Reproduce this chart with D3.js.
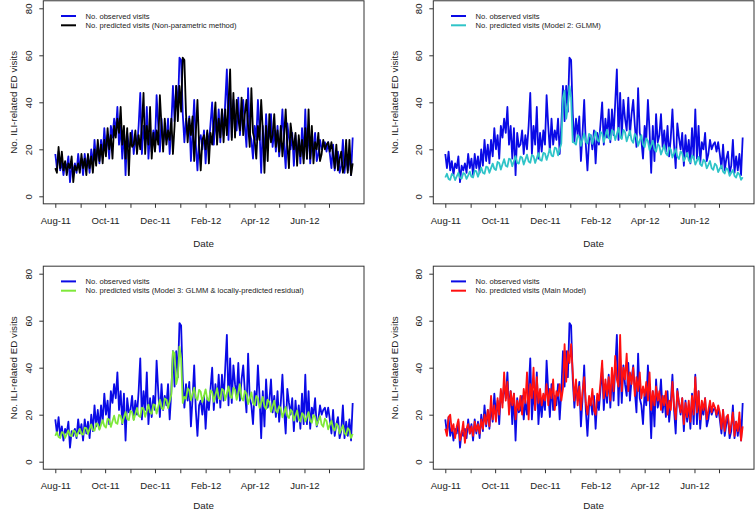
<!DOCTYPE html>
<html><head><meta charset="utf-8">
<script src="https://cdn.jsdelivr.net/npm/d3@7"></script>
<style>
body{margin:0;background:#fff}
svg{display:block}
text{font-family:"Liberation Sans",Arial,Helvetica,sans-serif;fill:#222}
</style>
</head><body>
<svg id="c" width="755" height="513"></svg>
<script>
// ---- data (every second day from 1 Aug 2011) ----
const startDate = new Date(2011, 7, 1);
const stepDays = 2;

const observed = [
 18,12,19,11,15,9,14,12,17,6,13,11,14,10,18,12,
 16,9,18,12,17,10,20,13,24,15,22,14,24,17,29,
 20,26,16,30,25,33,27,38,22,30,16,29,9,27,21,
 22,28,18,26,20,30,44,18,30,22,38,16,27,19,28,
 22,43,30,19,33,22,28,24,33,18,30,47,32,47,36,59,
 58,35,23,33,26,34,15,27,41,22,11,24,26,20,28,
 14,27,22,31,40,22,33,25,37,23,37,26,40,54,24,
 44,25,41,33,28,42,26,35,41,30,21,46,27,24,16,
 30,24,41,28,10,30,15,35,23,26,35,21,28,19,30,
 17,25,37,22,12,31,25,20,27,13,26,17,24,14,29,16,
 37,16,30,14,23,20,27,15,18,24,20,22,23,19,23,
 18,12,22,11,16,19,10,13,24,10,17,11,18,9,25
];

const predNonParametric = [
 12,10,21,12,19,11,15,9,14,12,17,6,13,11,14,10,
 18,12,16,9,18,12,17,10,20,13,24,15,22,14,24,
 17,29,20,26,16,30,25,33,27,38,22,30,16,29,9,
 27,21,22,28,18,26,20,30,44,18,30,22,38,16,27,
 19,28,22,43,30,19,33,22,28,24,33,18,30,47,32,47,
 36,59,58,35,23,33,26,34,15,27,41,22,11,24,26,
 20,28,14,27,22,31,40,22,33,25,37,23,37,26,40,
 54,24,44,25,41,33,28,42,26,35,41,30,21,46,27,
 24,16,30,24,41,28,10,30,15,35,23,26,35,21,28,
 19,30,17,25,37,22,12,31,25,20,27,13,26,17,24,14,
 29,16,37,16,30,14,23,20,27,15,18,24,20,22,23,
 19,23,18,12,22,11,16,19,10,13,24,10,24,9,14
];

const predGLMM = [
 8.0,9.6,7.4,7.0,9.5,9.0,6.9,8.5,10.0,7.9,7.5,9.9,9.5,7.4,8.9,10.5,
 8.3,8.0,11.0,10.6,8.3,10.3,12.2,10.0,9.6,12.6,12.3,10.0,12.0,13.9,11.7,
 11.2,14.6,14.2,11.4,13.6,15.8,13.0,12.6,16.0,15.6,12.8,15.0,17.1,14.3,13.9,
 16.9,16.4,13.5,15.6,17.7,14.8,14.3,17.6,17.1,14.2,16.3,18.4,15.5,15.1,18.5,
 18.2,15.5,17.8,20.3,17.4,17.0,20.7,20.3,17.4,20.0,22.5,42,45,33,38,47,
 42,23,22.8,22.0,26.0,25.2,21.5,24.2,26.8,23.2,22.5,26.6,25.9,22.3,25.0,
 27.6,24.0,23.3,27.4,26.7,23.1,25.8,28.4,24.8,24.1,28.2,27.5,23.9,26.5,29.1,
 25.3,24.4,28.3,27.3,23.4,25.6,27.9,23.9,22.8,26.6,25.5,21.5,23.8,26.0,22.0,
 20.9,24.6,23.5,19.7,21.7,23.7,20.0,19.0,22.3,21.4,17.8,19.8,21.8,18.3,17.4,
 20.8,19.9,16.5,18.3,20.2,16.9,15.9,19.1,18.2,15.0,16.7,18.5,15.3,14.4,17.4,16.6,
 13.5,15.1,16.8,13.7,12.9,15.6,14.8,11.9,13.4,15.0,12.0,11.3,13.9,13.1,10.3,
 11.8,13.1,10.5,9.7,12.0,11.3,8.7,10.0,11.2,8.7,8.0,10.1,9.3,7.0,8.1
];

const predGLMMResidual = [
 11.0,12.6,10.5,10.1,12.6,12.2,10.1,11.7,13.3,11.2,10.8,13.3,12.9,10.8,12.4,14.0,
 11.8,11.5,14.5,14.3,11.8,13.9,15.9,13.5,13.2,16.3,16.0,13.6,15.6,17.7,15.2,
 14.5,18.3,17.9,14.8,17.2,19.6,16.6,16.1,19.9,19.5,16.4,18.8,21.2,18.2,17.7,
 21.6,21.1,17.7,20.3,22.9,19.5,19.0,23.0,22.5,19.1,21.7,24.3,20.9,20.4,24.4,
 24.1,20.5,23.4,26.4,22.8,22.3,26.9,26.4,22.8,25.6,28.5,47,46,33,36,49,
 44,25,27.6,26.8,31.2,30.4,26.1,28.8,31.5,27.2,26.3,30.6,29.7,25.4,28.1,
 30.8,26.6,25.9,30.3,29.6,25.5,28.4,31.3,27.2,26.5,31.0,30.3,26.2,29.1,32.0,
 27.9,27.1,31.5,30.6,26.3,29.0,33.0,27.1,26.0,30.1,29.0,24.5,27.0,29.5,25.0,
 24.0,28.0,27.0,22.9,25.2,27.6,23.5,22.4,26.4,25.4,21.2,23.6,26.0,21.8,20.8,
 23.6,22.7,18.9,21.1,23.3,19.5,18.6,22.2,21.3,17.5,19.6,21.8,18.0,17.1,20.7,19.8,
 17.1,19.1,21.1,17.5,16.6,19.9,19.0,15.5,17.4,19.4,15.8,14.9,18.3,17.3,13.8,
 15.7,17.4,14.2,13.3,16.2,15.3,12.0,13.8,15.5,12.2,11.3,14.3,13.4,10.1,11.8
];

const predMain = [
 14,11,19,20,13,16,10,15,18,9,12,17,8,14,16,12,
 15,11,17,13,16,12,18,14,20,16,22,15,28,18,24,
 17,27,20,31,23,38,26,34,20,30,24,29,18,26,22,
 28,20,31,25,38,18,33,27,40,22,36,25,31,24,29,
 26,33,24,31,27,35,22,30,28,33,26,31,50,34,47,42,
 50,38,26,35,24,32,22,30,36,25,20,28,24,31,22,
 20,29,26,34,43,27,35,28,36,26,40,30,45,35,32,
 54,30,40,35,46,30,38,33,40,28,36,30,38,27,32,
 28,34,26,38,22,30,24,32,26,30,22,28,24,30,20,
 26,22,34,24,18,30,25,21,27,16,25,19,26,17,28,20,
 36,21,30,18,26,22,27,18,22,26,21,25,23,20,24,
 21,14,22,13,19,20,12,16,21,11,17,13,21,9,15
];

const xTickLabels = ["Aug-11","","Oct-11","","Dec-11","","Feb-12","","Apr-12","","Jun-12",""];
const yTickValues = [0,20,40,60,80];
const observedLabel = "No. observed visits";
const predictedLabels = [
 "No. predicted visits (Non-parametric method)",
 "No. predicted visits (Model 2: GLMM)",
 "No. predicted visits (Model 3: GLMM & locally-predicted residual)",
 "No. predicted visits (Main Model)"
];
const xTitle = "Date";
const yTitle = "No. ILI-related ED visits";

// ---- drawing ----
const svg = d3.select('#c');
const n = observed.length;
const dates = d3.range(n).map(i => d3.timeDay.offset(startDate, i * stepDays));
const monthStarts = d3.timeMonth.range(new Date(2011, 7, 1), new Date(2012, 7, 1));

const panels = [
 {ox: 0,   oy: 0,     pred: predNonParametric, color: '#000000', label: predictedLabels[0]},
 {ox: 390, oy: 0,     pred: predGLMM,          color: '#2fc4c8', label: predictedLabels[1]},
 {ox: 0,   oy: 265.4, pred: predGLMMResidual,  color: '#7fe83a', label: predictedLabels[2]},
 {ox: 390, oy: 265.4, pred: predMain,          color: '#ff1010', label: predictedLabels[3]}
];
const obsColor = '#0a0ae6';

panels.forEach(p => {
  const g = svg.append('g').attr('transform', `translate(${p.ox},${p.oy})`);
  const x = d3.scaleTime().domain([new Date(2011, 7, 1), new Date(2012, 6, 31)]).range([55.3, 353.5]);
  const y = d3.scaleLinear().domain([0, 80]).range([196.3, 8.3]);
  const left = 43.3, right = 364.0, top = y(83.2), bottom = y(-3.2);

  const line = d3.line().x((d, i) => x(dates[i])).y(d => y(d));

  g.append('path').datum(observed)
    .attr('d', line).attr('fill', 'none').attr('stroke', obsColor)
    .attr('stroke-width', 1.8).attr('stroke-linejoin', 'round');
  g.append('path').datum(p.pred.slice(0, n))
    .attr('d', line).attr('fill', 'none').attr('stroke', p.color)
    .attr('stroke-width', 1.8).attr('stroke-linejoin', 'round');

  // box
  g.append('rect').attr('x', left).attr('y', top)
    .attr('width', right - left).attr('height', bottom - top)
    .attr('fill', 'none').attr('stroke', '#333').attr('stroke-width', 1);

  // x axis
  const xa = g.append('g').attr('transform', `translate(0,${bottom})`)
    .call(d3.axisBottom(x).tickValues(monthStarts).tickSize(4).tickPadding(9)
      .tickFormat((d, i) => xTickLabels[i]));
  xa.select('.domain').remove();
  xa.selectAll('line').attr('stroke', '#333');
  xa.selectAll('text').attr('font-size', 9.6).attr('fill', '#222')
    .style('font-family', '"Liberation Sans",Arial,sans-serif');

  // y axis
  const ya = g.append('g').attr('transform', `translate(${left},0)`)
    .call(d3.axisLeft(y).tickValues(yTickValues).tickSize(4).tickFormat(d3.format('d')));
  ya.select('.domain').remove();
  ya.selectAll('line').attr('stroke', '#333');
  ya.selectAll('text')
    .attr('x', null).attr('dy', null)
    .attr('text-anchor', 'middle')
    .attr('dominant-baseline', 'central')
    .attr('transform', 'translate(-14.5,0) rotate(-90)')
    .attr('font-size', 9.6).attr('fill', '#222')
    .style('font-family', '"Liberation Sans",Arial,sans-serif');

  // titles
  const titleY = Math.min(bottom + 40, 513 - p.oy - 7.5);
  g.append('text').attr('x', (left + right) / 2).attr('y', titleY)
    .attr('text-anchor', 'middle').attr('dominant-baseline', 'central')
    .attr('font-size', 9.8).text(xTitle);
  const ylx = p.ox === 0 ? 13.3 : 4.0;
  g.append('text')
    .attr('transform', `translate(${ylx},${(top + bottom) / 2}) rotate(-90)`)
    .attr('text-anchor', 'middle').attr('dominant-baseline', 'central')
    .attr('font-size', 9.8).text(yTitle);

  // legend
  const leg = [{c: obsColor, t: observedLabel}, {c: p.color, t: p.label}];
  leg.forEach((l, k) => {
    const ly = 16 + k * 9.3;
    g.append('line').attr('x1', 61).attr('x2', 76).attr('y1', ly).attr('y2', ly)
      .attr('stroke', l.c).attr('stroke-width', 2);
    g.append('text').attr('x', 85.5).attr('y', ly).attr('dominant-baseline', 'central')
      .attr('font-size', 7.6).text(l.t);
  });
});
</script>
</body></html>
